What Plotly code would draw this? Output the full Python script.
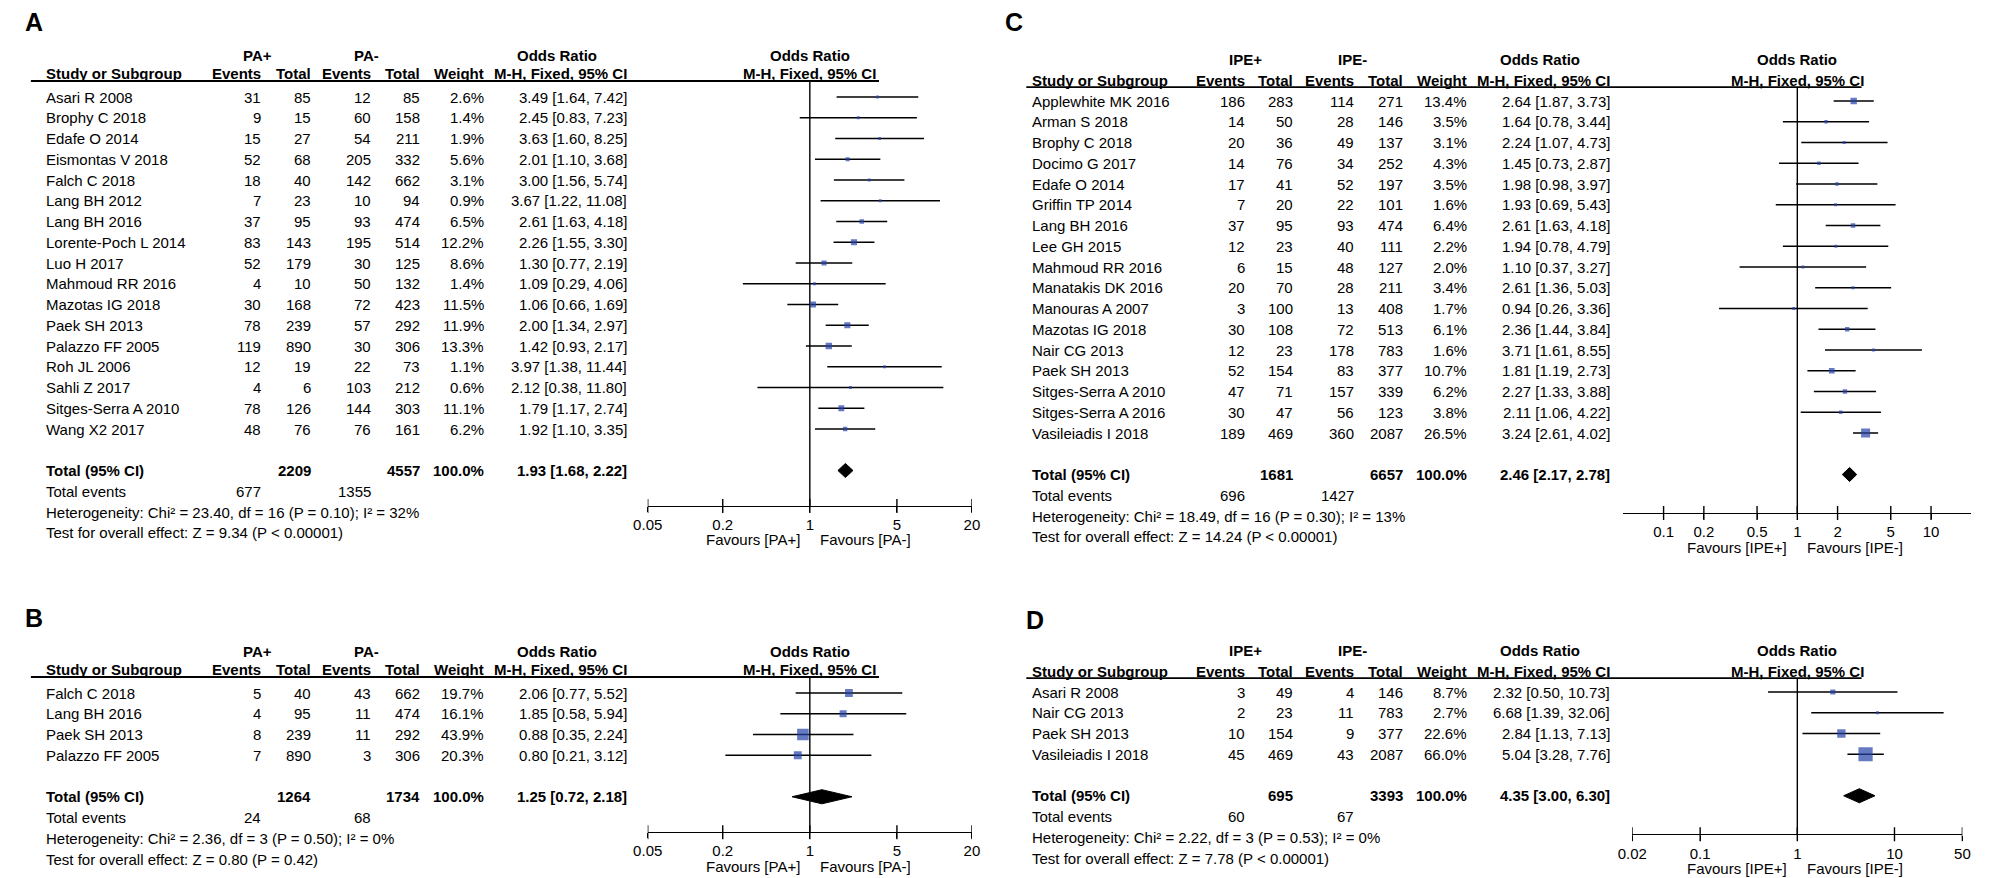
import math
import plotly.graph_objects as go

W, H = 1996, 878
ROW = 20.75
FONT = "Liberation Sans, Arial, Helvetica, sans-serif"
FS = 15
BLUE = "#2541A8"

# ---------------- Panel A (PA+ vs PA-) ----------------
a_groups = ["PA+", "PA-"]
a_studies = ["Asari R 2008", "Brophy C 2018", "Edafe O 2014", "Eismontas V 2018", "Falch C 2018",
             "Lang BH 2012", "Lang BH 2016", "Lorente-Poch L 2014", "Luo H 2017", "Mahmoud RR 2016",
             "Mazotas IG 2018", "Paek SH 2013", "Palazzo FF 2005", "Roh JL 2006", "Sahli Z 2017",
             "Sitges-Serra A 2010", "Wang X2 2017"]
a_ev1 = [31, 9, 15, 52, 18, 7, 37, 83, 52, 4, 30, 78, 119, 12, 4, 78, 48]
a_tot1 = [85, 15, 27, 68, 40, 23, 95, 143, 179, 10, 168, 239, 890, 19, 6, 126, 76]
a_ev2 = [12, 60, 54, 205, 142, 10, 93, 195, 30, 50, 72, 57, 30, 22, 103, 144, 76]
a_tot2 = [85, 158, 211, 332, 662, 94, 474, 514, 125, 132, 423, 292, 306, 73, 212, 303, 161]
a_weight = [2.6, 1.4, 1.9, 5.6, 3.1, 0.9, 6.5, 12.2, 8.6, 1.4, 11.5, 11.9, 13.3, 1.1, 0.6, 11.1, 6.2]
a_or = [3.49, 2.45, 3.63, 2.01, 3.00, 3.67, 2.61, 2.26, 1.30, 1.09, 1.06, 2.00, 1.42, 3.97, 2.12, 1.79, 1.92]
a_lo = [1.64, 0.83, 1.60, 1.10, 1.56, 1.22, 1.63, 1.55, 0.77, 0.29, 0.66, 1.34, 0.93, 1.38, 0.38, 1.17, 1.10]
a_hi = [7.42, 7.23, 8.25, 3.68, 5.74, 11.08, 4.18, 3.30, 2.19, 4.06, 1.69, 2.97, 2.17, 11.44, 11.80, 2.74, 3.35]
a_total_n = [2209, 4557]
a_total_events = [677, 1355]
a_total_or = [1.93, 1.68, 2.22]
a_het = "Heterogeneity: Chi² = 23.40, df = 16 (P = 0.10); I² = 32%"
a_test = "Test for overall effect: Z = 9.34 (P &lt; 0.00001)"
a_ticks = [0.05, 0.2, 1, 5, 20]
a_ticklabels = ["0.05", "0.2", "1", "5", "20"]

# ---------------- Panel B (PA+ vs PA-) ----------------
b_groups = ["PA+", "PA-"]
b_studies = ["Falch C 2018", "Lang BH 2016", "Paek SH 2013", "Palazzo FF 2005"]
b_ev1 = [5, 4, 8, 7]
b_tot1 = [40, 95, 239, 890]
b_ev2 = [43, 11, 11, 3]
b_tot2 = [662, 474, 292, 306]
b_weight = [19.7, 16.1, 43.9, 20.3]
b_or = [2.06, 1.85, 0.88, 0.80]
b_lo = [0.77, 0.58, 0.35, 0.21]
b_hi = [5.52, 5.94, 2.24, 3.12]
b_total_n = [1264, 1734]
b_total_events = [24, 68]
b_total_or = [1.25, 0.72, 2.18]
b_het = "Heterogeneity: Chi² = 2.36, df = 3 (P = 0.50); I² = 0%"
b_test = "Test for overall effect: Z = 0.80 (P = 0.42)"
b_ticks = [0.05, 0.2, 1, 5, 20]
b_ticklabels = ["0.05", "0.2", "1", "5", "20"]

# ---------------- Panel C (IPE+ vs IPE-) ----------------
c_groups = ["IPE+", "IPE-"]
c_studies = ["Applewhite MK 2016", "Arman S 2018", "Brophy C 2018", "Docimo G 2017", "Edafe O 2014",
             "Griffin TP 2014", "Lang BH 2016", "Lee GH 2015", "Mahmoud RR 2016", "Manatakis DK 2016",
             "Manouras A 2007", "Mazotas IG 2018", "Nair CG 2013", "Paek SH 2013", "Sitges-Serra A 2010",
             "Sitges-Serra A 2016", "Vasileiadis I 2018"]
c_ev1 = [186, 14, 20, 14, 17, 7, 37, 12, 6, 20, 3, 30, 12, 52, 47, 30, 189]
c_tot1 = [283, 50, 36, 76, 41, 20, 95, 23, 15, 70, 100, 108, 23, 154, 71, 47, 469]
c_ev2 = [114, 28, 49, 34, 52, 22, 93, 40, 48, 28, 13, 72, 178, 83, 157, 56, 360]
c_tot2 = [271, 146, 137, 252, 197, 101, 474, 111, 127, 211, 408, 513, 783, 377, 339, 123, 2087]
c_weight = [13.4, 3.5, 3.1, 4.3, 3.5, 1.6, 6.4, 2.2, 2.0, 3.4, 1.7, 6.1, 1.6, 10.7, 6.2, 3.8, 26.5]
c_or = [2.64, 1.64, 2.24, 1.45, 1.98, 1.93, 2.61, 1.94, 1.10, 2.61, 0.94, 2.36, 3.71, 1.81, 2.27, 2.11, 3.24]
c_lo = [1.87, 0.78, 1.07, 0.73, 0.98, 0.69, 1.63, 0.78, 0.37, 1.36, 0.26, 1.44, 1.61, 1.19, 1.33, 1.06, 2.61]
c_hi = [3.73, 3.44, 4.73, 2.87, 3.97, 5.43, 4.18, 4.79, 3.27, 5.03, 3.36, 3.84, 8.55, 2.73, 3.88, 4.22, 4.02]
c_total_n = [1681, 6657]
c_total_events = [696, 1427]
c_total_or = [2.46, 2.17, 2.78]
c_het = "Heterogeneity: Chi² = 18.49, df = 16 (P = 0.30); I² = 13%"
c_test = "Test for overall effect: Z = 14.24 (P &lt; 0.00001)"
c_ticks = [0.1, 0.2, 0.5, 1, 2, 5, 10]
c_ticklabels = ["0.1", "0.2", "0.5", "1", "2", "5", "10"]

# ---------------- Panel D (IPE+ vs IPE-) ----------------
d_groups = ["IPE+", "IPE-"]
d_studies = ["Asari R 2008", "Nair CG 2013", "Paek SH 2013", "Vasileiadis I 2018"]
d_ev1 = [3, 2, 10, 45]
d_tot1 = [49, 23, 154, 469]
d_ev2 = [4, 11, 9, 43]
d_tot2 = [146, 783, 377, 2087]
d_weight = [8.7, 2.7, 22.6, 66.0]
d_or = [2.32, 6.68, 2.84, 5.04]
d_lo = [0.50, 1.39, 1.13, 3.28]
d_hi = [10.73, 32.06, 7.13, 7.76]
d_total_n = [695, 3393]
d_total_events = [60, 67]
d_total_or = [4.35, 3.00, 6.30]
d_het = "Heterogeneity: Chi² = 2.22, df = 3 (P = 0.53); I² = 0%"
d_test = "Test for overall effect: Z = 7.78 (P &lt; 0.00001)"
d_ticks = [0.02, 0.1, 1, 10, 50]
d_ticklabels = ["0.02", "0.1", "1", "10", "50"]

panel_data = {
    "A": dict(groups=a_groups, studies=a_studies, ev1=a_ev1, tot1=a_tot1, ev2=a_ev2, tot2=a_tot2,
              weight=a_weight, orv=a_or, lo=a_lo, hi=a_hi, total_n=a_total_n, total_events=a_total_events,
              total_or=a_total_or, het=a_het, test=a_test, ticks=a_ticks, ticklabels=a_ticklabels),
    "B": dict(groups=b_groups, studies=b_studies, ev1=b_ev1, tot1=b_tot1, ev2=b_ev2, tot2=b_tot2,
              weight=b_weight, orv=b_or, lo=b_lo, hi=b_hi, total_n=b_total_n, total_events=b_total_events,
              total_or=b_total_or, het=b_het, test=b_test, ticks=b_ticks, ticklabels=b_ticklabels),
    "C": dict(groups=c_groups, studies=c_studies, ev1=c_ev1, tot1=c_tot1, ev2=c_ev2, tot2=c_tot2,
              weight=c_weight, orv=c_or, lo=c_lo, hi=c_hi, total_n=c_total_n, total_events=c_total_events,
              total_or=c_total_or, het=c_het, test=c_test, ticks=c_ticks, ticklabels=c_ticklabels),
    "D": dict(groups=d_groups, studies=d_studies, ev1=d_ev1, tot1=d_tot1, ev2=d_ev2, tot2=d_tot2,
              weight=d_weight, orv=d_or, lo=d_lo, hi=d_hi, total_n=d_total_n, total_events=d_total_events,
              total_or=d_total_or, het=d_het, test=d_test, ticks=d_ticks, ticklabels=d_ticklabels),
}

# ---------------- Layout (pixel positions) ----------------
left_cols = dict(name=21, e1=243, t1=293, e2=354, t2=404, w=468, ci=613, orhdr=540, g1=237, g2=348,
                 under=(8, 866), hdr=(-2.02, -1.11, -0.77), axis_off=1.71)
right_cols = dict(name=1019, e1=1238, t1=1287, e2=1349, t2=1398, w=1463, ci=1608, orhdr=1535, g1=1237, g2=1345,
                  under=(1015, 1860), hdr=(-1.98, -1.01, -0.67), axis_off=1.86)

panel_layout = {
    "A": dict(cols=left_cols, first=89, dom=(0, 570), fx=(632, 960), xr=(0.05, 20), letter=(11, 14)),
    "C": dict(cols=right_cols, first=93, dom=(0, 570), fx=(1619, 1971), xr=(0.05, 20), letter=(1003, 14)),
    "B": dict(cols=left_cols, first=685, dom=(570, 878), fx=(632, 960), xr=(0.05, 20), letter=(11, 610)),
    "D": dict(cols=right_cols, first=684, dom=(570, 878), fx=(1628, 1962), xr=(0.02, 50), letter=(1024, 612)),
}

fig = go.Figure()
annotations = []
shapes = []


def font(size=FS):
    return dict(family=FONT, size=size, color="black")


for idx, key in enumerate(["A", "C", "B", "D"], start=1):
    d = panel_data[key]
    L = panel_layout[key]
    c = L["cols"]
    xa = "x" if idx == 1 else f"x{idx}"
    ya = "y" if idx == 1 else f"y{idx}"
    first = L["first"]
    top, bot = L["dom"]

    def rpix(r):
        return first + r * ROW

    n = len(d["studies"])
    total_r = n + 1
    axis_r = total_r + c["axis_off"]
    grp_r, hdr_r, under_r = c["hdr"]

    lx0, lx1 = math.log10(L["xr"][0]), math.log10(L["xr"][1])
    fx0, fx1 = L["fx"]
    one_px = fx0 + (0 - lx0) / (lx1 - lx0) * (fx1 - fx0)

    fig.layout[("xaxis" if idx == 1 else f"xaxis{idx}")] = dict(
        type="log", range=[lx0, lx1], domain=[fx0 / W, fx1 / W], anchor="free",
        position=1 - rpix(axis_r) / H, showline=True, linecolor="black", linewidth=1.4,
        showgrid=False, zeroline=False, tickvals=d["ticks"], ticktext=d["ticklabels"],
        ticks="outside", ticklen=5, tickwidth=1.4, tickcolor="black", tickfont=font(), fixedrange=True)
    fig.layout[("yaxis" if idx == 1 else f"yaxis{idx}")] = dict(
        domain=[1 - bot / H, 1 - top / H], range=[(bot - first) / ROW, (top - first) / ROW],
        visible=False, anchor="free", position=0, fixedrange=True)

    def txt(xp, r, s, anchor="right", bold=False):
        annotations.append(dict(x=xp / W, xref="paper", y=r, yref=ya, text=(f"<b>{s}</b>" if bold else s),
                                xanchor=anchor, yanchor="middle", showarrow=False, font=font()))

    # headers
    txt(c["g1"], grp_r, d["groups"][0], "center", True)
    txt(c["g2"], grp_r, d["groups"][1], "center", True)
    txt(c["orhdr"], grp_r, "Odds Ratio", "center", True)
    txt(one_px, grp_r, "Odds Ratio", "center", True)
    txt(c["name"], hdr_r, "Study or Subgroup", "left", True)
    txt(c["e1"], hdr_r, "Events", bold=True)
    txt(c["t1"], hdr_r, "Total", bold=True)
    txt(c["e2"], hdr_r, "Events", bold=True)
    txt(c["t2"], hdr_r, "Total", bold=True)
    txt(c["w"], hdr_r, "Weight", bold=True)
    txt(c["ci"], hdr_r, "M-H, Fixed, 95% CI", bold=True)
    txt(one_px, hdr_r, "M-H, Fixed, 95% CI", "center", True)
    shapes.append(dict(type="line", xref="paper", yref=ya, x0=c["under"][0] / W, x1=c["under"][1] / W,
                       y0=under_r, y1=under_r, line=dict(color="black", width=1.8)))

    # study rows
    for i in range(n):
        txt(c["name"], i, d["studies"][i], "left")
        txt(c["e1"], i, str(d["ev1"][i]))
        txt(c["t1"], i, str(d["tot1"][i]))
        txt(c["e2"], i, str(d["ev2"][i]))
        txt(c["t2"], i, str(d["tot2"][i]))
        txt(c["w"], i, f"{d['weight'][i]:.1f}%")
        txt(c["ci"], i, f"{d['orv'][i]:.2f} [{d['lo'][i]:.2f}, {d['hi'][i]:.2f}]")

    # totals
    tor = d["total_or"]
    txt(c["name"], total_r, "Total (95% CI)", "left", True)
    txt(c["t1"], total_r, str(d["total_n"][0]), bold=True)
    txt(c["t2"], total_r, str(d["total_n"][1]), bold=True)
    txt(c["w"], total_r, "100.0%", bold=True)
    txt(c["ci"], total_r, f"{tor[0]:.2f} [{tor[1]:.2f}, {tor[2]:.2f}]", bold=True)
    txt(c["name"], total_r + 1, "Total events", "left")
    txt(c["e1"], total_r + 1, str(d["total_events"][0]))
    txt(c["e2"], total_r + 1, str(d["total_events"][1]))
    txt(c["name"], total_r + 2, d["het"], "left")
    txt(c["name"], total_r + 3, d["test"], "left")

    # favours labels
    fav_r = axis_r + 34 / ROW
    txt(one_px - 8, fav_r, f"Favours [{d['groups'][0]}]", "right")
    txt(one_px + 8, fav_r, f"Favours [{d['groups'][1]}]", "left")

    # panel letter
    lx, ly = L["letter"]
    annotations.append(dict(x=lx / W, xref="paper", y=1 - ly / H, yref="paper", text=f"<b>{key}</b>",
                            xanchor="center", yanchor="middle", showarrow=False, font=font(size=25)))

    # line of no effect
    fig.add_trace(go.Scatter(x=[1, 1], y=[under_r, axis_r], mode="lines", xaxis=xa, yaxis=ya,
                             line=dict(color="black", width=1.4), hoverinfo="skip"))
    # upward tick halves
    fig.add_trace(go.Scatter(x=d["ticks"], y=[axis_r] * len(d["ticks"]), mode="markers", xaxis=xa, yaxis=ya,
                             marker=dict(symbol="line-ns", size=10, line=dict(color="black", width=1.4)),
                             hoverinfo="skip"))
    # confidence intervals
    cx, cy = [], []
    for i in range(n):
        cx += [d["lo"][i], d["hi"][i], None]
        cy += [i, i, None]
    fig.add_trace(go.Scatter(x=cx, y=cy, mode="lines", xaxis=xa, yaxis=ya,
                             line=dict(color="black", width=1.5), hoverinfo="skip"))
    # squares
    fig.add_trace(go.Scatter(x=d["orv"], y=list(range(n)), mode="markers", xaxis=xa, yaxis=ya,
                             marker=dict(symbol="square", color=BLUE,
                                         size=[max(3, 1.75 * math.sqrt(w)) for w in d["weight"]],
                                         line=dict(width=0)), hoverinfo="skip"))
    # diamond
    fig.add_trace(go.Scatter(x=[tor[1], tor[0], tor[2], tor[0], tor[1]],
                             y=[total_r, total_r - 0.34, total_r, total_r + 0.34, total_r],
                             mode="lines", fill="toself", fillcolor="black", xaxis=xa, yaxis=ya,
                             line=dict(color="black", width=1), hoverinfo="skip"))

fig.update_layout(width=W, height=H, margin=dict(l=0, r=0, t=0, b=0), paper_bgcolor="white",
                  plot_bgcolor="white", showlegend=False, annotations=annotations, shapes=shapes,
                  font=dict(family=FONT, size=FS, color="black"))

fig.write_html("out.html")
